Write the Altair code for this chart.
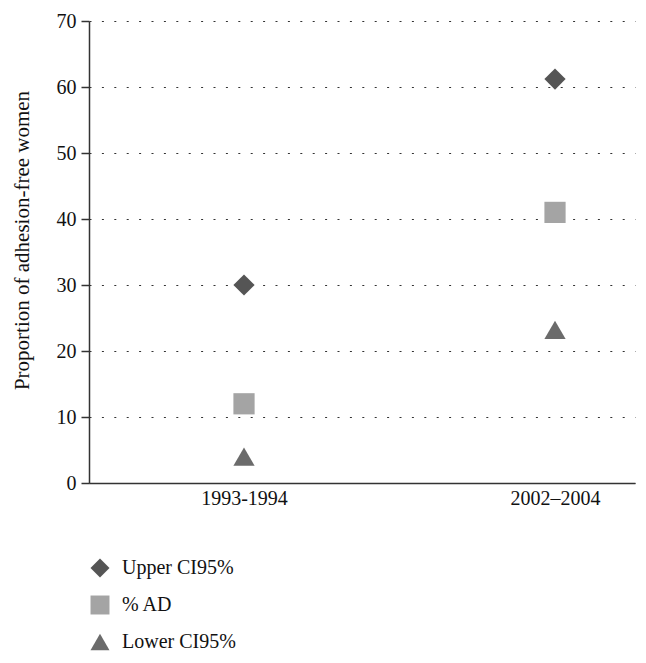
import altair as alt
import pandas as pd

periods = ["1993-1994", "2002\u20132004"]
series = ["Upper CI95%", "% AD", "Lower CI95%"]
upper = [30, 61.2]
ad = [12, 41]
lower = [4, 23.2]

rows = []
for s, vals in zip(series, [upper, ad, lower]):
    for p, v in zip(periods, vals):
        rows.append({"period": p, "series": s, "value": v})
df = pd.DataFrame(rows)

FONT = "Liberation Serif"

legend_cfg = dict(title=None, orient="none", legendX=1, legendY=537,
                  labelFontSize=20, labelColor="#111", symbolSize=360,
                  rowPadding=17, padding=0, labelOffset=12, symbolStrokeWidth=0)

chart = alt.Chart(df).mark_point(filled=True, opacity=1, size=450).encode(
    x=alt.X("period:O", title=None, sort=periods,
            scale=alt.Scale(type="point", domain=periods, padding=0.3778, align=0.6596),
            axis=alt.Axis(labelAngle=0, ticks=False, grid=False, labelPadding=5,
                          labelFontSize=20, labelColor="#111", domainColor="#333",
                          domainWidth=1.5)),
    y=alt.Y("value:Q", title="Proportion of adhesion-free women",
            scale=alt.Scale(domain=[0, 70], nice=False),
            axis=alt.Axis(values=[0, 10, 20, 30, 40, 50, 60, 70], tickSize=8,
                          tickColor="#333", tickWidth=1.5, domainColor="#333",
                          domainWidth=1.5, labelFontSize=20, labelColor="#111",
                          labelPadding=5, titleFontSize=21, titleFontWeight="normal",
                          titleColor="#111", titleX=-67, titleY=219,
                          titleAlign="center", titleBaseline="middle",
                          grid=True, gridDash=[2, 10.4], gridColor="#333",
                          gridWidth=1.2)),
    shape=alt.Shape("series:N", sort=series,
                    scale=alt.Scale(domain=series, range=["diamond", "square", "triangle-up"]),
                    legend=alt.Legend(**legend_cfg)),
    color=alt.Color("series:N", sort=series,
                    scale=alt.Scale(domain=series, range=["#555555", "#a4a4a4", "#6b6b6b"]),
                    legend=alt.Legend(**legend_cfg)),
).properties(
    width=546, height=462,
    autosize=alt.AutoSizeParams(type="none"),
    padding={"left": 81, "top": 13, "right": 3, "bottom": 170},
).configure(font=FONT).configure_view(stroke=None)

chart.save("out.html", embed_options={"renderer": "svg", "actions": False})
